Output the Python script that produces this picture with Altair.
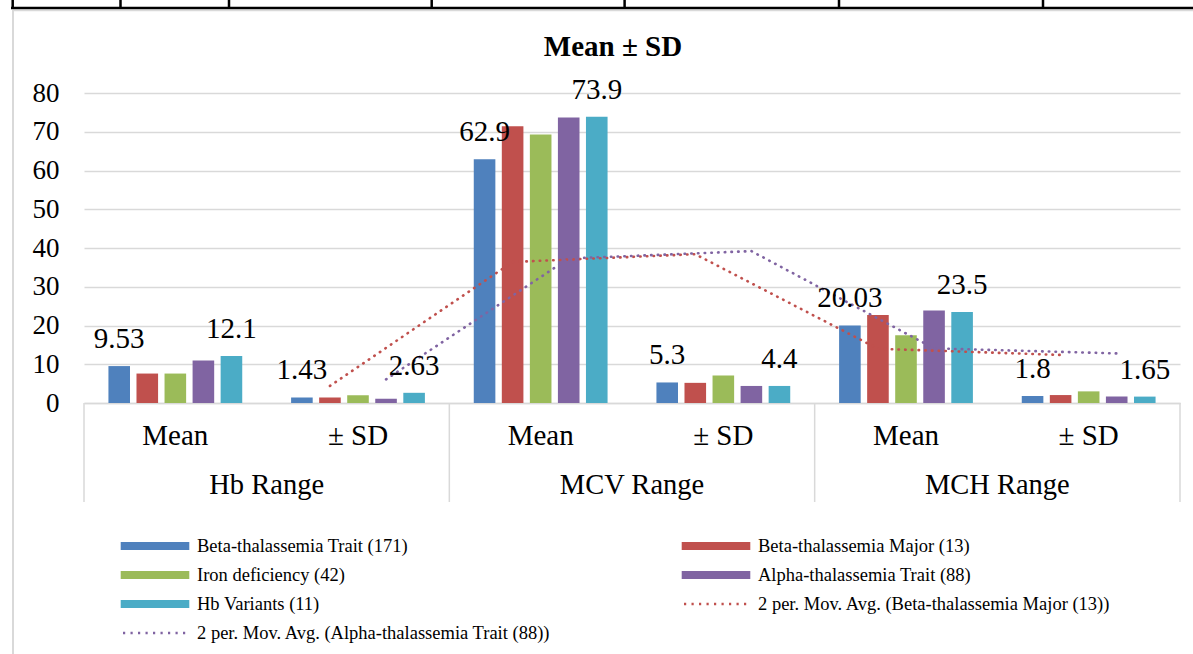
import altair as alt
import pandas as pd

# ---- data -------------------------------------------------------------
ranges = ["Hb", "MCV", "MCH"]
range_labels = ["Hb Range", "MCV Range", "MCH Range"]
stats = ["Mean", "± SD"]
categories = [f"{r}|{s}" for r in ranges for s in stats]

series = [
    "Beta-thalassemia Trait (171)",
    "Beta-thalassemia Major (13)",
    "Iron deficiency (42)",
    "Alpha-thalassemia Trait (88)",
    "Hb Variants (11)",
]
colors = ["#4F81BD", "#C0504D", "#9BBB59", "#8064A2", "#4BACC6"]

beta_trait = [9.53, 1.43, 62.9, 5.3, 20.03, 1.8]
beta_major = [7.6, 1.4, 71.4, 5.2, 22.7, 2.05]
iron_def = [7.6, 2.0, 69.3, 7.1, 17.5, 3.0]
alpha_trait = [11.0, 1.1, 73.7, 4.4, 23.9, 1.7]
hb_variants = [12.1, 2.63, 73.9, 4.4, 23.5, 1.65]

# 2-period moving-average trendlines (first point sits on the 2nd category)
ma_beta_major = [4.4, 36.4, 38.4, 14.0, 12.4]
ma_alpha_trait = [6.1, 37.3, 39.2, 14.1, 12.8]
ma_names = [
    "2 per. Mov. Avg. (Beta-thalassemia Major (13))",
    "2 per. Mov. Avg. (Alpha-thalassemia Trait (88))",
]

FONT = "'Liberation Serif', 'Times New Roman', 'DejaVu Serif', serif"
GRID = "#D9D9D9"
W, H = 1096, 310

# ---- tables -------------------------------------------------------------
values_by_series = [beta_trait, beta_major, iron_def, alpha_trait, hb_variants]
bars_df = pd.DataFrame(
    [
        {"cat": c, "series": s, "value": v}
        for s, vals in zip(series, values_by_series)
        for c, v in zip(categories, vals)
    ]
)
labels_df = bars_df[bars_df["series"].isin([series[0], series[4]])].copy()
labels_df["label"] = labels_df["value"].map(lambda v: f"{v:g}")

ma_red_df = pd.DataFrame({"cat": categories[1:], "series": series[1], "value": ma_beta_major})
ma_purple_df = pd.DataFrame({"cat": categories[1:], "series": series[3], "value": ma_alpha_trait})

groups_df = pd.DataFrame({"cat": [f"{r}|Mean" for r in ranges], "group": range_labels})

# ---- shared encodings ----------------------------------------------------
x_enc = alt.X(
    "cat:N",
    sort=categories,
    scale=alt.Scale(domain=categories, paddingInner=0, paddingOuter=0),
    axis=alt.Axis(
        title=None,
        labelExpr="split(datum.value, '|')[1]",
        labelFont=FONT,
        labelFontSize=29,
        labelColor="#000000",
        labelAngle=0,
        labelBaseline="alphabetic",
        labelPadding=41,
        ticks=False,
        domainColor=GRID,
        domainWidth=1.5,
        grid=False,
    ),
)
xoff_enc = alt.XOffset(
    "series:N",
    sort=series,
    scale=alt.Scale(domain=series, paddingInner=0.23, paddingOuter=0.871),
)
y_enc = alt.Y(
    "value:Q",
    scale=alt.Scale(domain=[0, 80], nice=False, zero=True),
    axis=alt.Axis(
        title=None,
        values=list(range(0, 81, 10)),
        labelFont=FONT,
        labelFontSize=27,
        labelColor="#000000",
        labelPadding=25,
        ticks=False,
        domain=False,
        grid=True,
        gridColor=GRID,
        gridWidth=1.3,
    ),
)

bars = alt.Chart(bars_df).mark_bar().encode(
    x=x_enc,
    xOffset=xoff_enc,
    y=y_enc,
    color=alt.Color("series:N", scale=alt.Scale(domain=series, range=colors), legend=None),
)

value_labels = alt.Chart(labels_df).mark_text(
    font=FONT, fontSize=29, color="#000000", baseline="alphabetic", dy=-18
).encode(x=x_enc, xOffset=xoff_enc, y=y_enc, text="label:N")


def ma_line(df, color):
    return alt.Chart(df).mark_line(
        color=color, strokeWidth=2.6, strokeDash=[0.5, 6.2], strokeCap="round"
    ).encode(x=x_enc, xOffset=xoff_enc, y=y_enc)


ma_red = ma_line(ma_red_df, colors[1])
ma_purple = ma_line(ma_purple_df, colors[3])

group_labels = alt.Chart(groups_df).mark_text(
    font=FONT, fontSize=28.5, color="#000000", baseline="alphabetic"
).encode(x=alt.X("cat:N", bandPosition=1), y=alt.value(401), text="group:N")

separators = alt.Chart(groups_df).mark_rule(color=GRID, strokeWidth=1.5).encode(
    x=alt.X("cat:N", bandPosition=0), y=alt.value(H), y2=alt.value(409)
)
end_separator = alt.Chart(pd.DataFrame({"cat": [categories[-1]]})).mark_rule(
    color=GRID, strokeWidth=1.5
).encode(x=alt.X("cat:N", bandPosition=1), y=alt.value(H), y2=alt.value(409))

one = alt.Data(values=[{}])
title_text = alt.Chart(one).mark_text(
    text="Mean ± SD", font=FONT, fontSize=29, fontWeight="bold", color="#000000",
    baseline="alphabetic", align="center",
).encode(x=alt.value(529), y=alt.value(-37))

# chart-area frame and the table rule above it
frame_left = alt.Chart(one).mark_rule(color=GRID, strokeWidth=2).encode(
    x=alt.value(-71), y=alt.value(-83), y2=alt.value(H + 260)
)
frame_top = alt.Chart(one).mark_rule(color=GRID, strokeWidth=1.5).encode(
    y=alt.value(-82.5), x=alt.value(-71), x2=alt.value(W + 20)
)
table_rule = alt.Chart(one).mark_rule(color="#000000", strokeWidth=2.7).encode(
    y=alt.value(-85), x=alt.value(-73), x2=alt.value(W + 20)
)
table_cells = [
    alt.Chart(one).mark_rule(color="#000000", strokeWidth=2.5).encode(
        x=alt.value(px - 84), y=alt.value(-95), y2=alt.value(-85)
    )
    for px in [12.7, 120.5, 229, 431.7, 624.6, 839, 1043]
]

main = alt.layer(
    frame_left, frame_top, table_rule, *table_cells,
    bars, ma_red, ma_purple, value_labels, group_labels,
    separators, end_separator, title_text,
)

# ---- legend (two-column grid under the plot) -----------------------------
legend_items = series + ma_names
legend_colors = colors + [colors[1], colors[3]]
legend_kind = ["bar"] * len(series) + ["line"] * len(ma_names)
leg_df = pd.DataFrame({"item": legend_items, "color": legend_colors, "kind": legend_kind})
leg_df["col"] = leg_df.index % 2
leg_df["row"] = leg_df.index // 2

lx = alt.X("col:Q", scale=alt.Scale(domain=[0, 1], range=[71, 632], nice=False, zero=False), axis=None)
ly = alt.Y("row:Q", scale=alt.Scale(domain=[0, 3], range=[453, 540], nice=False, zero=False), axis=None)

leg_bars = alt.Chart(leg_df).transform_filter("datum.kind == 'bar'").mark_point(
    shape="M-1,-0.117H1V0.117H-1Z", size=68.6 ** 2, filled=True, opacity=1
).encode(x=lx, y=ly, color=alt.Color("color:N", scale=None))

leg_lines = alt.Chart(leg_df).transform_filter("datum.kind == 'line'").mark_point(
    shape="M-1,0H1", size=64 ** 2, filled=False, opacity=1,
    strokeWidth=2.4, strokeDash=[2.2, 5.3],
).encode(x=lx, y=ly, color=alt.Color("color:N", scale=None))

leg_text = alt.Chart(leg_df).mark_text(
    font=FONT, fontSize=18.5, color="#000000", align="left", baseline="middle", dx=42
).encode(x=lx, y=ly, text="item:N")

legend = alt.layer(leg_bars, leg_lines, leg_text)

chart = (
    alt.layer(main, legend)
    .resolve_scale(x="independent", y="independent", color="independent")
    .properties(
        width=W,
        height=H,
        autosize=alt.AutoSizeParams(type="none"),
        padding={"left": 84, "top": 93, "right": 13, "bottom": 251},
        background="#FFFFFF",
    )
    .configure_view(stroke=None)
)

chart.save("out.html", embed_options={"renderer": "svg", "actions": False})
